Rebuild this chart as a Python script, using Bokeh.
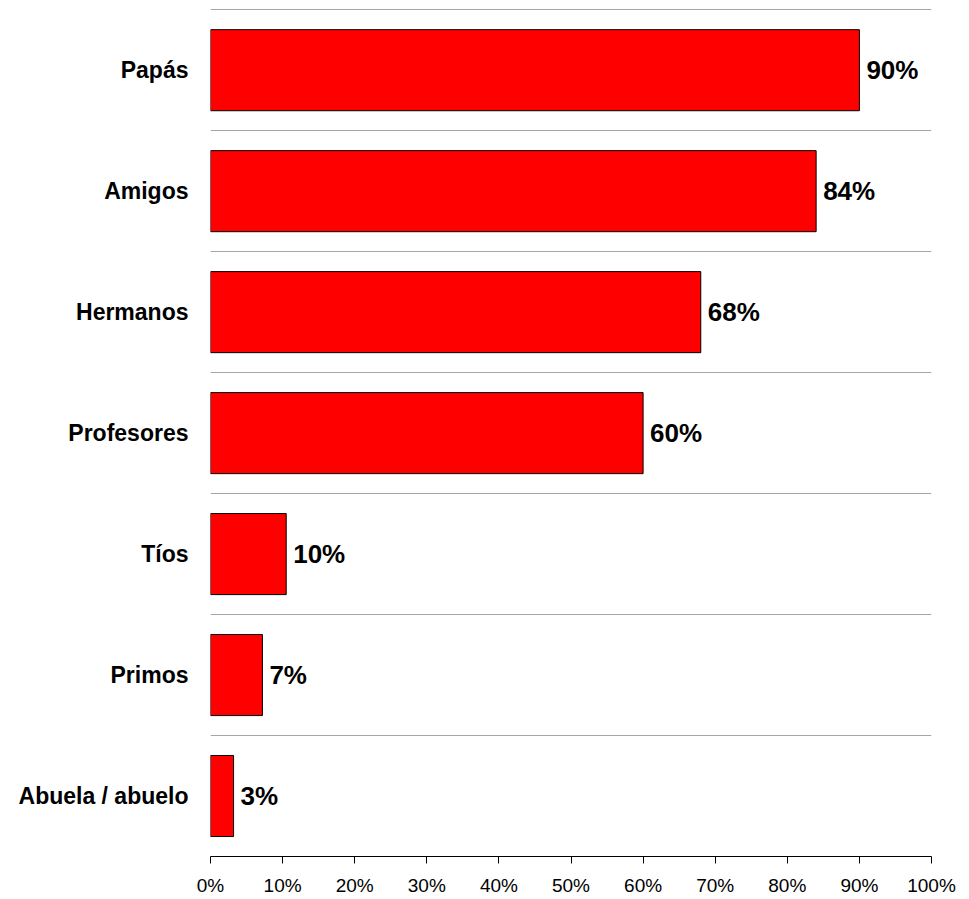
from bokeh.plotting import figure
from bokeh.models import Range1d, FixedTicker, NumeralTickFormatter, ColumnDataSource
from bokeh.embed import file_html
from bokeh.resources import INLINE
from bokeh.core.properties import value

categories = ["Papás", "Amigos", "Hermanos", "Profesores", "Tíos", "Primos", "Abuela / abuelo"]
values = [0.90, 0.84, 0.68, 0.60, 0.105, 0.072, 0.032]
labels = ["90%", "84%", "68%", "60%", "10%", "7%", "3%"]
x_ticks = [0.0, 0.1, 0.2, 0.3, 0.4, 0.5, 0.6, 0.7, 0.8, 0.9, 1.0]

n = len(categories)
ypos = [n - 0.5 - i for i in range(n)]

src = ColumnDataSource(dict(y=ypos, v=values, lab=labels, cat=categories))

p = figure(width=960, height=898, output_backend="svg", toolbar_location=None,
           x_range=Range1d(0, 1), y_range=Range1d(0, n + 0.01),
           min_border_left=210, min_border_right=29, min_border_top=8, min_border_bottom=39)
p.outline_line_color = None
p.background_fill_color = "white"

p.hbar(y="y", right="v", left=0, height=0.67, source=src,
       fill_color="#ff0000", line_color="black", line_width=1)

p.text(x="v", y="y", text="lab", source=src, x_offset=7,
       text_baseline="middle", text_align="left",
       text_font=value("Liberation Sans"), text_font_style="bold",
       text_font_size="26px", text_color="black")

# x axis
p.xaxis.ticker = FixedTicker(ticks=x_ticks)
p.xaxis.formatter = NumeralTickFormatter(format="0%")
p.xaxis.major_tick_in = 0
p.xaxis.major_tick_out = 7
p.xaxis.minor_tick_line_color = None
p.xaxis.axis_line_color = "black"
p.xaxis.major_tick_line_color = "black"
p.xaxis.major_label_text_font = "Liberation Sans"
p.xaxis.major_label_text_font_size = "19px"
p.xaxis.major_label_text_color = "black"
p.xaxis.major_label_standoff = 11
p.xgrid.grid_line_color = None

# y axis
p.yaxis.ticker = FixedTicker(ticks=ypos)
p.yaxis.major_label_overrides = {y: c for y, c in zip(ypos, categories)}
p.yaxis.axis_line_color = None
p.yaxis.major_tick_line_color = None
p.yaxis.minor_tick_line_color = None
p.yaxis.major_label_standoff = 16
p.yaxis.major_label_text_font = "Liberation Sans"
p.yaxis.major_label_text_font_style = "bold"
p.yaxis.major_label_text_font_size = "23px"
p.yaxis.major_label_text_color = "black"

p.ygrid.ticker = FixedTicker(ticks=list(range(1, n + 1)))
p.ygrid.grid_line_color = "#a6a6a6"
p.ygrid.grid_line_width = 1

open("out.html", "w").write(file_html(p, INLINE))
